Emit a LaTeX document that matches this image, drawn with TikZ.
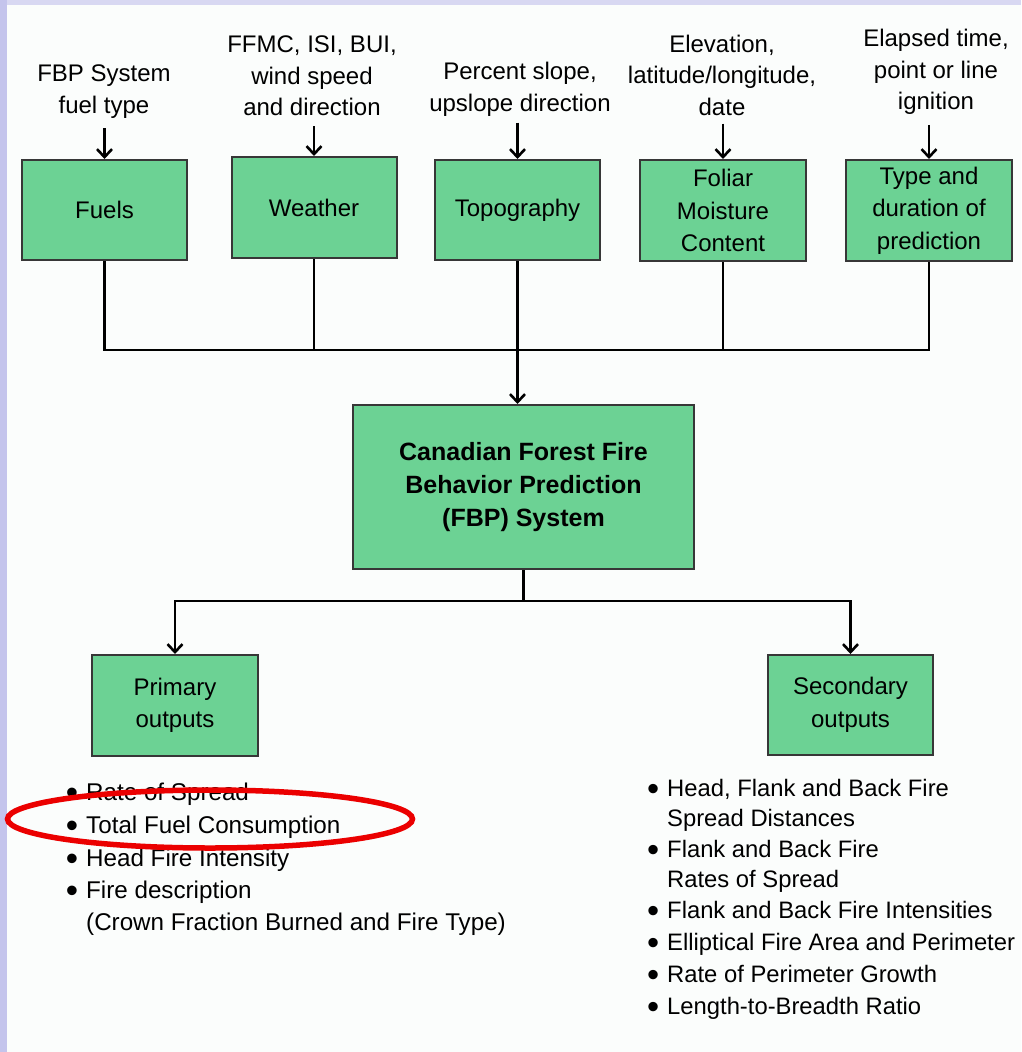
\documentclass[tikz,border=0pt]{standalone}
\usepackage{fontspec}
\setmainfont{Liberation Sans}
\usetikzlibrary{arrows.meta,shapes.geometric}
\definecolor{boxgreen}{RGB}{108,210,148}
\definecolor{bgc}{RGB}{251,253,252}
\definecolor{lav}{RGB}{196,196,236}
\definecolor{lavtop}{RGB}{216,216,242}
\definecolor{ringred}{RGB}{235,0,0}
\definecolor{boxline}{RGB}{55,55,55}
\newcommand\mybul{\llap{\raisebox{-4.5pt}{\scalebox{1.45}{\textbullet}}\hspace{8pt}}}
\begin{document}
\begin{tikzpicture}[x=1pt,y=-1pt,
  box/.style={draw=boxline, line width=2pt, fill=boxgreen, inner sep=0pt, align=center,
    font=\fontsize{24}{32.5}\selectfont},
  lbl/.style={inner sep=0pt, align=center, font=\fontsize{24}{31.5}\selectfont},
  item/.style={inner sep=0pt, anchor=base west, font=\fontsize{24.2}{31}\selectfont},
  sitem/.style={item, font=\fontsize{23.8}{31}\selectfont},
  wire/.style={line width=2.6pt},
  arr/.style={wire, -{Straight Barb[length=8pt,width=15pt,line width=2.6pt]}},
]
\useasboundingbox (0,0) rectangle (1021,1052);
\fill[bgc] (0,0) rectangle (1021,1052);
\fill[lavtop] (0,0) rectangle (1021,5);
\fill[lav] (0,0) rectangle (7,1052);

% input boxes
\node[box, minimum width=165pt, minimum height=100pt] (fuels) at (104.5,210) {Fuels};
\node[box, minimum width=165pt, minimum height=101pt] (weather) at (314,207.5) {Weather};
\node[box, minimum width=165pt, minimum height=100pt] (topo) at (517.5,210) {Topography};
\node[box, minimum width=166pt, minimum height=101pt] (foliar) at (723,210.5) {Foliar\\Moisture\\Content};
\node[box, minimum width=166pt, minimum height=101pt] (type) at (929,210.5) {Type and\\duration of\\prediction};

% top labels
\node[lbl] (lfuel) at (104,91.5) {FBP System\\fuel type};
\node[lbl] (lweather) at (312,76) {FFMC, ISI, BUI,\\wind speed\\and direction};
\node[lbl] (ltopo) at (520,89.5) {Percent slope,\\upslope direction};
\node[lbl] (lfoliar) at (722,75) {Elevation,\\latitude/longitude,\\date};
\node[lbl] (ltype) at (936,72) {Elapsed time,\\point or line\\ignition};

\draw[arr] ([yshift=-10pt]lfuel.south -| fuels.north) -- (fuels.north);
\draw[arr] ([yshift=-10pt]lweather.south -| weather.north) -- (weather.north);
\draw[arr] ([yshift=-6pt]ltopo.south -| topo.north) -- (topo.north);
\draw[arr] ([yshift=-8pt]lfoliar.south -| foliar.north) -- (foliar.north);
\draw[arr] ([yshift=-10pt]ltype.south -| type.north) -- (type.north);

% central box
\node[box, minimum width=341pt, minimum height=164pt,
  font=\fontsize{25}{33}\selectfont\bfseries] (fbp) at (523.5,487)
  {Canadian Forest Fire\\Behavior Prediction\\(FBP) System};

% bus
\coordinate (busy) at (0,350);
\draw[wire, line join=miter] (fuels.south) -- (fuels.south |- busy) -- (type.south |- busy) -- (type.south);
\draw[wire] (weather.south) -- (weather.south |- busy);
\draw[wire] (foliar.south) -- (foliar.south |- busy);
\draw[arr] (topo.south) -- (topo.south |- fbp.north);

% outputs
\node[box, minimum width=166pt, minimum height=101pt] (primary) at (175,705.5) {Primary\\outputs};
\node[box, minimum width=165pt, minimum height=100pt] (secondary) at (850.5,705) {Secondary\\outputs};

\coordinate (split) at (0,601);
\draw[arr] (fbp.south) -- (fbp.south |- split) -| (primary.north);
\draw[arr] (fbp.south |- split) -| (secondary.north);

% primary list
\node[item] (p1) at (86,800) {\mybul Rate of Spread};
\node[item] (p2) at (86,833) {\mybul Total Fuel Consumption};
\node[item] (p3) at (86,866) {\mybul Head Fire Intensity};
\node[item] (p4) at (86,898) {\mybul Fire description};
\node[item] (p5) at (86,930) {(Crown Fraction Burned and Fire Type)};

% secondary list
\node[sitem] (s1) at (667,796) {\mybul Head, Flank and Back Fire};
\node[sitem] (s1b) at (667,826) {Spread Distances};
\node[sitem] (s2) at (667,857) {\mybul Flank and Back Fire};
\node[sitem] (s2b) at (667,887) {Rates of Spread};
\node[sitem] (s3) at (667,918) {\mybul Flank and Back Fire Intensities};
\node[sitem] (s4) at (667,950) {\mybul Elliptical Fire Area and Perimeter};
\node[sitem] (s5) at (667,982) {\mybul Rate of Perimeter Growth};
\node[sitem] (s6) at (667,1014) {\mybul Length-to-Breadth Ratio};

% highlight ring
\node[draw=ringred, line width=5.5pt, ellipse, inner sep=0pt,
  minimum width=405pt, minimum height=58pt] (ring) at (210,819) {};
\end{tikzpicture}
\end{document}
